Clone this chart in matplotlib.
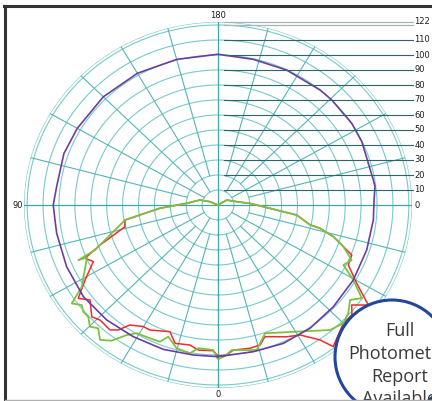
import numpy as np
import matplotlib
matplotlib.use('Agg')
import matplotlib.pyplot as plt
from matplotlib.patches import Ellipse
from matplotlib.lines import Line2D

# angles in degrees: 0 = straight down, + toward the left (90 = left, 180 = up), - toward the right
purple_deg = [0, 8.8, 19.7, 31.3, 42.4, 54.2, 66.6, 79.4, 84.4, 90, 97, 109.5, 120, 135, 150, 165,
              180, 192.9, 205.6, 220, 225.6, 237.1, 245, 260.3, 262.9, 268, 275.8, 287.8, 300.4,
              313.1, 324.8, 336, 347.2, 360]
purple_cd = [101.1, 101.2, 102.2, 102.7, 103.8, 104.4, 103.7, 103.2, 103, 103.6, 102.2, 102.8, 102.2,
             102, 101.4, 100.5, 100.5, 99.6, 99.8, 100, 100.1, 100.2, 99.8, 99.1, 99.5, 98.2, 98.2,
             98.2, 98.7, 99.3, 100.5, 101, 100.3, 101.1]

green_deg = [180, 113.6, 106.4, 93.3, 86.6, 80.3, 68.8, 67.3, 67.0, 57.5, 54.5, 52.1, 50.0, 47.6,
             44.8, 42.5, 39.5, 36.5, 33.5, 30.9, 25.7, 21.8, 19.6, 15.2, 10.1, 7.4, 1.8, 0.0, -2.5,
             -5.1, -14.1, -19.1, -30.4, -40.2, -45.0, -48.6, -52.7, -55.5, -59.6, -63.1, -66.4,
             -70.6, -73.8, -76.4, -77.1, -82.3, -83.8, -90.0, -93.0, -100.6, -121.0, -180]
green_cd = [0, 5.5, 11.8, 19.7, 36.6, 59.3, 83.0, 95.2, 89.5, 101.6, 113.0, 108.6, 110.6, 110.5,
            114.3, 111.5, 116.6, 112.5, 104.0, 99.6, 98.6, 98.2, 93.2, 99.0, 100.4, 96.3, 96.7,
            102.9, 100.8, 97.1, 99.7, 90.5, 97.9, 109.1, 111.5, 109.2, 104.4, 109.7, 98.7, 88.4,
            91.7, 83.6, 75.5, 66.0, 59.4, 50.0, 41.3, 24.3, 20.1, 12.0, 6.4, 0]

red_deg = [180, 113.6, 106.4, 93.3, 86.6, 80.3, 76.1, 70.2, 67.0, 64.3, 59.1, 54.7, 51.8, 46.8,
           44.0, 39.2, 37.0, 34.7, 30.1, 27.2, 19.7, 16.3, 10.7, 7.3, 1.8, 0.0, -3.1, -5.7, -11.9,
           -15.8, -18.6, -26.2, -30.8, -35.5, -37.5, -45.0, -49.0, -51.6, -54.8, -59.1, -64.0,
           -68.4, -70.6, -73.8, -76.4, -77.1, -82.3, -83.8, -90.0, -93.0, -100.6, -121.0, -180]
red_cd = [0, 5.5, 11.8, 19.7, 36.6, 59.3, 60.3, 78.9, 90.9, 87.0, 97.4, 107.7, 102.4, 108.9,
          106.7, 107.5, 104.3, 97.3, 93.7, 93.7, 89.7, 96.1, 95.0, 97.5, 97.2, 100.7, 100.2, 97.2,
          97.6, 97.0, 92.6, 97.9, 100.9, 110.5, 119.0, 111.5, 111.6, 107.3, 115.7, 101.6, 91.2,
          90.5, 83.6, 75.5, 66.0, 59.4, 50.0, 41.3, 24.3, 20.1, 12.0, 6.4, 0]

ring_values = [10, 20, 30, 40, 50, 60, 70, 80, 90, 100, 110, 120, 122]
scale_values = [10, 20, 30, 40, 50, 60, 70, 80, 90, 100, 110]
r_max = 122
angle_labels = [('180', 180), ('90', 90), ('0', 0)]
badge_lines = ['Full', 'Photometric', 'Report', 'Available']

W, H = 432, 401
fig = plt.figure(figsize=(W / 100, H / 100), dpi=100)

# chart centre and radii in pixels (picture is a bit wider than tall)
cx, cy, rx, ry = 218, 205, 194, 183
rect = [(cx - rx) / W, (H - cy - ry) / H, 2 * rx / W, 2 * ry / H]

ax = fig.add_axes(rect, projection='polar')
ax.set_aspect('auto')
ax.set_theta_zero_location('S')
ax.set_theta_direction(-1)
ax.set_ylim(0, r_max)
ax.grid(False)
ax.set_xticks([])
ax.set_yticks([])
ax.spines['polar'].set_visible(False)
ax.patch.set_alpha(0)

ring_col = '#79c9c9'
spoke_col = '#55b5b5'
full = np.linspace(0, 2 * np.pi, 721)
for r in ring_values:
    ax.plot(full, np.full_like(full, r), color=ring_col, lw=0.8, zorder=1)

for a in range(0, 360, 15):
    if a % 90 == 0:
        start, col, lw = 0, '#3ea7a7', 0.9
    elif a % 30 == 0:
        start, col, lw = 10, spoke_col, 0.8
    else:
        start, col, lw = 20, spoke_col, 0.8
    t = np.deg2rad(a)
    ax.plot([t, t], [start, r_max], color=col, lw=lw, zorder=1)

ax.plot(np.deg2rad(red_deg), red_cd, color='#f42a2a', lw=1.1, zorder=3)
ax.plot(np.deg2rad(green_deg), green_cd, color='#7dc144', lw=1.3, zorder=4)
ax.plot(np.deg2rad(purple_deg), purple_cd, color='#6a3ea1', lw=1.2, zorder=5)

# overlay in the same units (cd) for the scale, labels and badge
ov = fig.add_axes(rect)
ov.set_xlim(-r_max, r_max)
ov.set_ylim(-r_max, r_max)
ov.axis('off')
ov.patch.set_alpha(0)

for v in scale_values:
    ov.plot([4, 122.6], [v, v], color='#2f6565', lw=0.8, clip_on=False)
for v in (120, 122):
    ov.plot([4, 122.6], [v, v], color='#a6b6b6', lw=0.9, clip_on=False)

lab_kw = dict(fontsize=6, color='#1e1e1e', clip_on=False)
for v in [0] + scale_values + [r_max]:
    ov.text(123.6, v, str(v), ha='left', va='center', **lab_kw)

for txt, a in angle_labels:
    t = np.deg2rad(a)
    ov.text(-126 * np.sin(t), -126.5 * np.cos(t), txt, ha='center', va='center', **lab_kw)

# badge
bx, by, br = (392 - cx) / (rx / r_max), (cy - 357) / (ry / r_max), 57
ov.add_patch(Ellipse((bx, by), 2 * br / (rx / r_max), 2 * br / (ry / r_max),
                     facecolor='white', edgecolor='#23479a', lw=2.2, clip_on=False, zorder=10))
for i, line in enumerate(badge_lines):
    ov.text((400 - cx) / (rx / r_max), (cy - 336.5 - 22.5 * i) / (ry / r_max), line,
            ha='center', va='baseline', fontsize=13, family='Open Sans', color='#3a3a3a',
            clip_on=False, zorder=11)

# frame
fig.add_artist(Line2D([4 / W, 1], [1 - 6 / H, 1 - 6 / H], color='#333333', lw=2.2,
                      transform=fig.transFigure))
fig.add_artist(Line2D([5 / W, 5 / W], [0, 1 - 6 / H], color='#333333', lw=2.2,
                      transform=fig.transFigure))
fig.add_artist(Line2D([5 / W, 1], [0.8 / H, 0.8 / H], color='#b0b0b0', lw=1,
                      transform=fig.transFigure))

fig.savefig('out.png', dpi=100, facecolor='white')
